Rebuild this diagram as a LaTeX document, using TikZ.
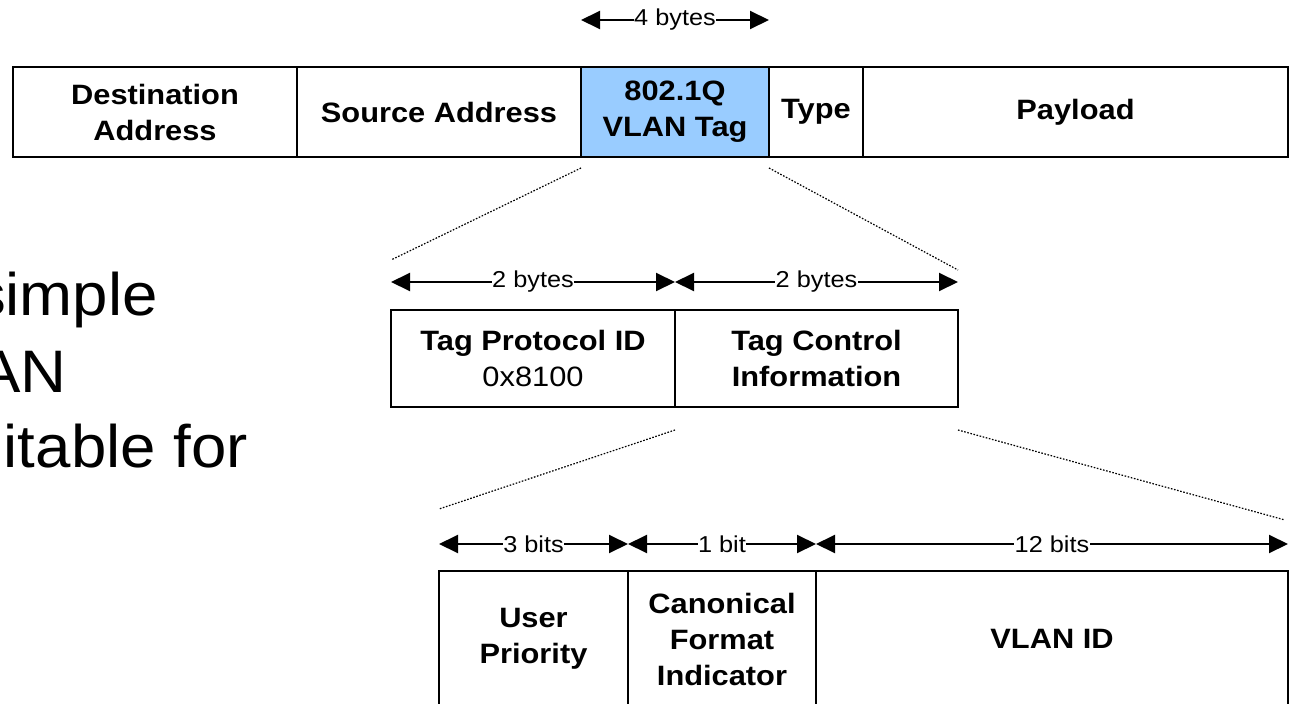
\documentclass[tikz,border=0pt]{standalone}
\usepackage{fontspec}
\setmainfont{Liberation Sans}[FakeStretch=1.1]
\newfontfamily\bigfont{Liberation Sans}[FakeStretch=1.06]
\usetikzlibrary{arrows.meta}
\definecolor{tagblue}{HTML}{99CCFF}
\begin{document}
\begin{tikzpicture}[x=1pt,y=-1pt,
  field/.style={draw, line width=2.6pt, inner sep=0pt, outer sep=0pt, align=center,
    font=\fontsize{28}{36}\selectfont\bfseries},
  dimarrow/.style={line width=2pt, {Triangle[length=19pt,width=18pt]}-{Triangle[length=19pt,width=18pt]}},
  dimlabel/.style={fill=white, inner sep=0.5pt, font=\fontsize{23}{27}\selectfont},
  zoomline/.style={dash pattern=on 1.6pt off 1.6pt, line width=1.2pt},
  bigtext/.style={anchor=base east, inner sep=0pt, font=\bigfont\fontsize{60}{76}\selectfont}]
\useasboundingbox (0,0) rectangle (1291,704);
\clip (0,0) rectangle (1291,704);

% top frame
\node[field, minimum width=284pt, minimum height=90pt] (da) at (155,112) {Destination\\Address};
\node[field, minimum width=284pt, minimum height=90pt] (sa) at (439,112) {Source Address};
\node[field, fill=tagblue, minimum width=188pt, minimum height=90pt] (tag) at (675,112) {802.1Q\\VLAN Tag};
\node[field, minimum width=94pt, minimum height=90pt] (type) at (816,112) {Type};
\node[field, minimum width=425pt, minimum height=90pt] (pay) at (1075.5,112) {Payload};

% middle: tag
\node[field, minimum width=284pt, minimum height=97pt] (tpid) at (533,358.5) {Tag Protocol ID\\\mdseries 0x8100};
\node[field, minimum width=283pt, minimum height=97pt] (tci) at (816.5,358.5) {Tag Control\\Information};

% bottom: TCI
\node[field, minimum width=189pt, minimum height=136pt] (up) at (533.5,639) {User\\Priority};
\node[field, minimum width=188pt, minimum height=136pt] (cfi) at (722,639) {Canonical\\Format\\Indicator};
\node[field, minimum width=472pt, minimum height=136pt] (vid) at (1052,639) {VLAN ID};

% dimension rows
\coordinate (r1) at (0,20);
\coordinate (r2) at (0,282);
\coordinate (r3) at (0,544);
\draw[dimarrow] (tag.north west |- r1) -- node[dimlabel] {4 bytes} (tag.north east |- r1);
\draw[dimarrow] (tpid.north west |- r2) -- node[dimlabel] {2 bytes} (tpid.north east |- r2);
\draw[dimarrow] (tci.north west |- r2) -- node[dimlabel] {2 bytes} (tci.north east |- r2);
\draw[dimarrow] (up.north west |- r3) -- node[dimlabel] {3 bits} (up.north east |- r3);
\draw[dimarrow] (cfi.north west |- r3) -- node[dimlabel] {1 bit} (cfi.north east |- r3);
\draw[dimarrow] (vid.north west |- r3) -- node[dimlabel] {12 bits} (vid.north east |- r3);

% zoom lines
\coordinate (z1a) at (581,168);
\coordinate (z1b) at (391,260);
\coordinate (z2a) at (769,168);
\coordinate (z2b) at (958,270);
\coordinate (z3a) at (675,430);
\coordinate (z3b) at (439,509);
\coordinate (z4a) at (958,430);
\coordinate (z4b) at (1285,520);
\draw[zoomline] (z1a) -- (z1b);
\draw[zoomline] (z2a) -- (z2b);
\draw[zoomline] (z3a) -- (z3b);
\draw[zoomline] (z4a) -- (z4b);

% clipped background text
\node[bigtext] (t1) at (158,315) {simple};
\node[bigtext] (t2) at (67,392) {AN};
\node[bigtext] (t3) at (248,467) {itable for};
\end{tikzpicture}
\end{document}
